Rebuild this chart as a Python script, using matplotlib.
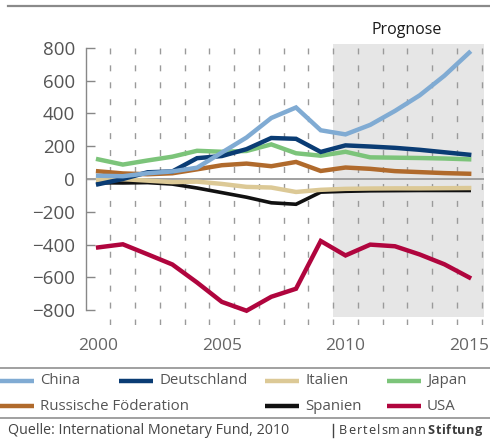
import matplotlib
matplotlib.use('Agg')
import matplotlib.pyplot as plt
from matplotlib.lines import Line2D

plt.rcParams['font.family'] = ['Open Sans', 'DejaVu Sans']

# Leistungsbilanzsalden in Mrd. US-Dollar (ab 2010 Prognose)
years = list(range(2000, 2016))
china = [20, 17, 35, 46, 69, 161, 253, 372, 436, 297, 272, 330, 415, 510, 630, 770]
deutschland = [-32, 0, 41, 46, 127, 140, 182, 250, 245, 165, 205, 198, 190, 178, 163, 148]
italien = [-6, -1, -10, -19, -16, -30, -48, -52, -79, -66, -60, -58, -57, -57, -56, -55]
japan = [120, 88, 113, 136, 172, 166, 171, 211, 157, 142, 166, 132, 130, 128, 125, 120]
russland = [47, 34, 29, 35, 59, 84, 94, 78, 104, 49, 70, 62, 48, 42, 36, 32]
spanien = [-23, -24, -22, -31, -55, -83, -111, -145, -154, -80, -75, -72, -71, -70, -70, -70]
usa = [-417, -398, -459, -521, -631, -749, -803, -718, -669, -378, -466, -400, -410, -460, -520, -600]

series = [
    ('Spanien', spanien, '#111111', 2.6),
    ('Italien', italien, '#dcc996', 3.2),
    ('Russische Föderation', russland, '#b06a2c', 3.2),
    ('Japan', japan, '#7cc47a', 3.2),
    ('Deutschland', deutschland, '#0a3c74', 3.2),
    ('China', china, '#80abd3', 3.2),
    ('USA', usa, '#b0053e', 3.2),
]
colors = {name: c for name, _, c, _ in series}

prognose_start = 2009.5
yticks = list(range(-800, 801, 200))
xticks = [2000, 2005, 2010, 2015]

fig = plt.figure(figsize=(4.9, 4.41), dpi=100)
ax = fig.add_axes([86 / 490, 1 - 325 / 441, (484 - 86) / 490, (325 - 44) / 441])

ax.set_xlim(1999.51, 2015.6)
ax.set_ylim(-890, 823)

# forecast shading
ax.fill_between([prognose_start, 2015.6], -842, 823, color='#e6e6e6', lw=0, zorder=0)

# dashed year separators
for x in range(2000, 2016):
    ax.vlines(x + 0.5, -890, 800, colors='#9a9a9a', lw=1.0,
              linestyles=(0, (4.3, 7.9)), zorder=1)

ax.axhline(0, color='#a0a0a0', lw=1.4, zorder=2)

for name, vals, c, lw in series:
    ax.plot(years, vals, color=c, lw=lw, solid_joinstyle='miter', zorder=3)

for s in ['top', 'right', 'bottom']:
    ax.spines[s].set_visible(False)
ax.spines['left'].set_bounds(-800, 800)
ax.spines['left'].set_color('#888888')
ax.spines['left'].set_linewidth(1.0)

ax.set_yticks(yticks)
ax.set_yticklabels([f'{v}'.replace('-', '\u2212') for v in yticks])
ax.tick_params(axis='y', direction='in', length=6.5, width=1, color='#888888',
               labelsize=13.5, labelcolor='#555555', pad=8)
ax.set_xticks(xticks)
ax.tick_params(axis='x', length=0, labelsize=12.5, labelcolor='#666666', pad=9)
ax.patch.set_alpha(0)

fig.text(407 / 490, 1 - 30 / 441, 'Prognose', ha='center', va='center',
         fontsize=11.5, color='#1a1a1a')

# rules
def hrule(y, x0=0, x1=1, c='#999999', lw=1.3):
    fig.add_artist(Line2D([x0, x1], [1 - y / 441] * 2, transform=fig.transFigure,
                          color=c, lw=lw))

hrule(6, 8 / 490, 1, c='#8a8a8a', lw=1.6)
hrule(368, 0, 1)
hrule(418, 0, 1)

# legend
legend_items = [
    ('China', 0, 381), ('Deutschland', 119, 381), ('Italien', 265, 381), ('Japan', 387, 381),
    ('Russische Föderation', 0, 406), ('Spanien', 265, 406), ('USA', 387, 406),
]
for name, x0, y in legend_items:
    fig.add_artist(Line2D([x0 / 490, (x0 + 34) / 490], [1 - y / 441] * 2,
                          transform=fig.transFigure, color=colors[name], lw=3.2,
                          solid_capstyle='butt'))
    fig.text((x0 + 40) / 490, 1 - y / 441, name, ha='left', va='center',
             fontsize=10.8, color='#555555')

fig.text(8 / 490, 1 - 431 / 441, 'Quelle: International Monetary Fund, 2010',
         ha='left', va='center', fontsize=10.3, color='#444444')
fig.add_artist(Line2D([333 / 490] * 2, [1 - 424 / 441, 1 - 437 / 441],
                      transform=fig.transFigure, color='#444444', lw=1.0))

# letter-spaced logo text: place each letter after the width of its prefix
renderer = fig.canvas.get_renderer()
x_start = 339
offset = 0
for word, weight, track in [('Bertelsmann', 'normal', 1.1), ('Stiftung', 'bold', 0.6)]:
    probe = fig.text(0, 0, '', fontsize=9.1, fontweight=weight)
    for i, ch in enumerate(word):
        probe.set_text(word[:i] if i else '')
        w = probe.get_window_extent(renderer).width if i else 0
        fig.text((x_start + offset + w + i * track) / 490, 1 - 430 / 441, ch,
                 ha='left', va='center', fontsize=9.1, color='#3a3a3a',
                 fontweight=weight)
    probe.set_text(word)
    offset += probe.get_window_extent(renderer).width + len(word) * track + 0.5
    probe.remove()

fig.savefig('out.png', dpi=100)
